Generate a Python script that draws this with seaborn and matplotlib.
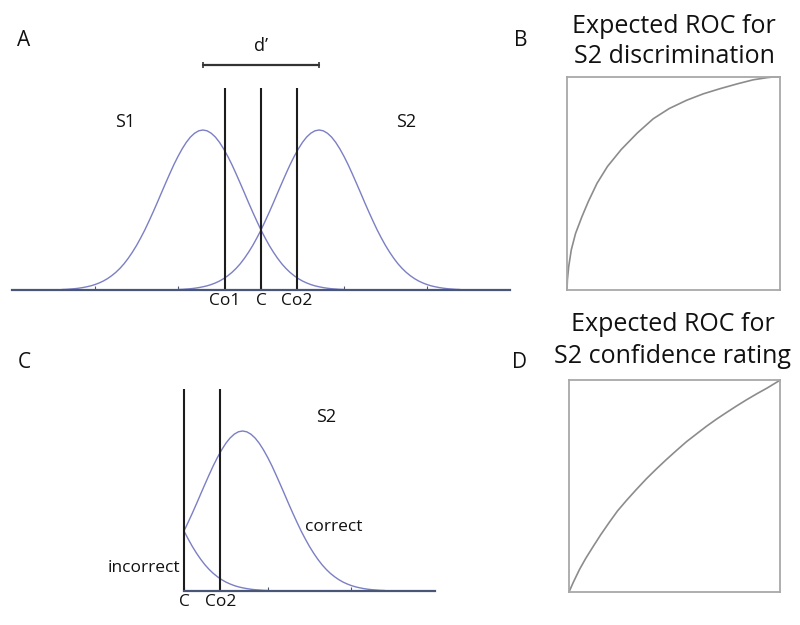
import numpy as np
import pandas as pd
import matplotlib
matplotlib.use("Agg")
import matplotlib.pyplot as plt
import seaborn as sns

sns.set_style("white")
plt.rcParams['font.family'] = ['Open Sans', 'DejaVu Sans']
plt.rcParams['text.color'] = '#111111'

# one equal-variance bell, sampled every 0.1 sd from -3.4 to 3.4, height relative to the peak
bell_half = [1.000, 0.995, 0.980, 0.956, 0.923, 0.882, 0.835, 0.783, 0.726, 0.667,
             0.607, 0.546, 0.487, 0.430, 0.375, 0.325, 0.278, 0.236, 0.198, 0.164,
             0.135, 0.110, 0.089, 0.071, 0.056, 0.044, 0.034, 0.026, 0.020, 0.015,
             0.011, 0.008, 0.006, 0.004, 0.003]
bell_height = bell_half[:0:-1] + bell_half
bell_offset = np.round(np.linspace(-3.4, 3.4, len(bell_height)), 1)

mean_s1 = -1.4
mean_s2 = 1.4
crit_names = ["Co1", "C", "Co2"]
crit_pos = [-0.87, 0.0, 0.87]
crit_top = 1.26

# expected ROC curves (false alarm rate, hit rate)
roc_disc_fa = [0, 0.002, 0.008, 0.02, 0.04, 0.07, 0.10, 0.141, 0.19, 0.255, 0.33,
               0.405, 0.48, 0.562, 0.64, 0.718, 0.80, 0.875, 0.94, 0.967, 1.0]
roc_disc_hit = [0, 0.05, 0.11, 0.188, 0.265, 0.344, 0.415, 0.501, 0.58, 0.660, 0.737,
                0.804, 0.852, 0.891, 0.921, 0.945, 0.968, 0.987, 0.997, 1.0, 1.0]
roc_conf_fa = [0, 0.02, 0.05, 0.08, 0.114, 0.15, 0.193, 0.23, 0.272, 0.32, 0.367, 0.415,
               0.462, 0.51, 0.557, 0.605, 0.652, 0.70, 0.747, 0.795, 0.842, 0.89, 0.937, 0.97, 1.0]
roc_conf_hit = [0, 0.045, 0.107, 0.16, 0.214, 0.27, 0.332, 0.383, 0.432, 0.485, 0.535, 0.582,
                0.626, 0.669, 0.710, 0.747, 0.783, 0.817, 0.848, 0.879, 0.908, 0.936, 0.962, 0.982, 1.0]

curve_col = "#7b7fc4"
base_col = "#4a5678"
line_col = "#1c1c1c"
roc_col = "#8c8c8c"
box_col = "#a8a8a8"

bell = pd.DataFrame({"offset": bell_offset, "height": bell_height})
s1 = bell.assign(x=bell["offset"] + mean_s1)
s2 = bell.assign(x=bell["offset"] + mean_s2)

fig = plt.figure(figsize=(8, 6.25), dpi=100)


def dist_axes(rect, xlim, ticks):
    ax = fig.add_axes(rect)
    ax.set_xlim(*xlim)
    ax.set_ylim(0, 1.6)
    for s in ["left", "right", "top"]:
        ax.spines[s].set_visible(False)
    ax.spines["bottom"].set_color(base_col)
    ax.spines["bottom"].set_linewidth(1.6)
    ax.set_xticks(ticks)
    ax.set_xticklabels([])
    ax.set_yticks([])
    ax.tick_params(axis="x", direction="in", length=3, width=0.8, color=base_col, bottom=True)
    ax.patch.set_alpha(0)
    return ax


# ---------------- A: the two distributions
axA = dist_axes([0.015, 0.536, 0.6225, 0.4096], (-6, 6), [-4, -2, 0, 2, 4])
sns.lineplot(data=s1, x="x", y="height", ax=axA, color=curve_col, linewidth=1.0)
sns.lineplot(data=s2, x="x", y="height", ax=axA, color=curve_col, linewidth=1.0)
axA.vlines(crit_pos, 0, crit_top, color=line_col, linewidth=1.5)
for name, pos in zip(crit_names, crit_pos):
    axA.text(pos, -0.02, name, ha="center", va="top", fontsize=12.5)
axA.plot([mean_s1, mean_s2], [1.405, 1.405], color="#333333", linewidth=1.6,
         marker="|", markersize=5, markeredgewidth=1.2, clip_on=False)
axA.text(0, 1.47, "d\u2019", ha="center", va="bottom", fontsize=13)
axA.text(-3.28, 1.05, "S1", ha="center", va="center", fontsize=13)
axA.text(3.49, 1.05, "S2", ha="center", va="center", fontsize=13)
axA.set_xlabel("")
axA.set_ylabel("")

# ---------------- C: S2 beyond the criterion
axC = dist_axes([0.23, 0.0544, 0.31375, 0.4096], (0, 6), [0, 2, 4])
corr = s2[s2["x"] >= -1e-9]
inc = s1[s1["x"] >= -1e-9]
sns.lineplot(data=corr, x="x", y="height", ax=axC, color=curve_col, linewidth=1.0, clip_on=False)
sns.lineplot(data=inc, x="x", y="height", ax=axC, color=curve_col, linewidth=1.0, clip_on=False)
axC.vlines([crit_pos[1], crit_pos[2]], 0, crit_top, color=line_col, linewidth=1.5, clip_on=False)
axC.text(crit_pos[1], -0.02, "C", ha="center", va="top", fontsize=12.5)
axC.text(crit_pos[2], -0.02, "Co2", ha="center", va="top", fontsize=12.5)
axC.text(-0.08, 0.144, "incorrect", ha="right", va="center", fontsize=12.5)
axC.text(2.9, 0.40, "correct", ha="left", va="center", fontsize=12.5)
axC.text(3.4, 1.09, "S2", ha="center", va="center", fontsize=13)
axC.set_xlabel("")
axC.set_ylabel("")


# ---------------- B and D: expected ROCs
def roc_axes(rect, fa, hit):
    ax = fig.add_axes(rect)
    sns.lineplot(x=fa, y=hit, ax=ax, color=roc_col, linewidth=1.2, clip_on=False)
    ax.set_xlim(0, 1)
    ax.set_ylim(0, 1)
    ax.set_xticks([])
    ax.set_yticks([])
    for s in ax.spines.values():
        s.set_color(box_col)
        s.set_linewidth(1.3)
    return ax


axB = roc_axes([0.70875, 0.536, 0.26625, 0.3408], roc_disc_fa, roc_disc_hit)
axD = roc_axes([0.71125, 0.0528, 0.264, 0.339], roc_conf_fa, roc_conf_hit)

fig.text(0.8425, 0.9472, "Expected ROC for", ha="center", va="baseline", fontsize=18)
fig.text(0.8425, 0.8992, "S2 discrimination", ha="center", va="baseline", fontsize=18)
fig.text(0.841, 0.4704, "Expected ROC for", ha="center", va="baseline", fontsize=18)
fig.text(0.841, 0.4192, "S2 confidence rating", ha="center", va="baseline", fontsize=18)

# panel letters
for letter, px, py in [("A", 24, 40), ("B", 521, 40), ("C", 24, 363), ("D", 520, 363)]:
    fig.text(px / 800, 1 - py / 625, letter, ha="center", va="center", fontsize=15)

fig.savefig("out.png", dpi=100)
